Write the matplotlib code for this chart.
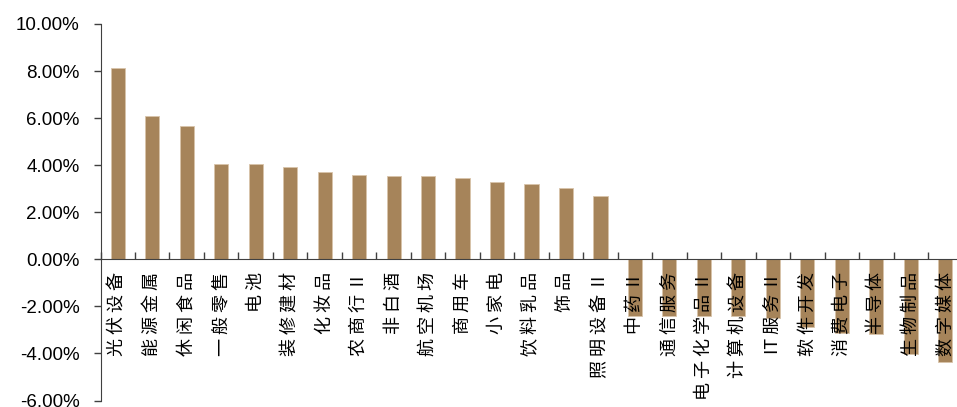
import numpy as np
import matplotlib
matplotlib.use("Agg")
import matplotlib.pyplot as plt
import matplotlib.transforms as mtransforms
from matplotlib.ticker import FuncFormatter

industries = ["光伏设备", "能源金属", "休闲食品", "一般零售", "电池", "装修建材",
              "化妆品", "农商行Ⅱ", "非白酒", "航空机场", "商用车", "小家电",
              "饮料乳品", "饰品", "照明设备Ⅱ", "中药Ⅱ", "通信服务", "电子化学品Ⅱ",
              "计算机设备", "IT服务Ⅱ", "软件开发", "消费电子", "半导体", "生物制品",
              "数字媒体"]
returns = [8.11, 6.10, 5.68, 4.07, 4.05, 3.91,
           3.69, 3.57, 3.53, 3.53, 3.44, 3.28,
           3.22, 3.01, 2.68, -2.39, -2.39, -2.43,
           -2.43, -2.50, -2.86, -3.14, -3.17, -4.01,
           -4.37]

bar_color = "#A6845A"

fig = plt.figure(figsize=(9.57, 4.07), dpi=100)
ax = fig.add_axes([100.5 / 957, (407 - 400.5) / 407, 862 / 957, (400.5 - 24) / 407])

x = np.arange(len(industries))
ax.bar(x, returns, width=0.41, color=bar_color, edgecolor="#D9C4AA", linewidth=0.6, zorder=2)

ax.set_xlim(-0.5, len(industries) - 0.5)
ax.set_ylim(-6, 10)
ax.set_yticks(np.arange(-6, 10.1, 2))
ax.yaxis.set_major_formatter(FuncFormatter(lambda v, p: f"{v:.2f}%"))
for lab in ax.get_yticklabels():
    lab.set_fontfamily("Liberation Sans")
    lab.set_fontsize(13.5)
ax.tick_params(axis="y", direction="out", length=5, width=1, color="#404040", pad=10)

# x axis sits on the zero line, ticks between categories pointing up
ax.spines["bottom"].set_position(("data", 0))
ax.spines["top"].set_visible(False)
ax.spines["right"].set_visible(False)
ax.spines["left"].set_color("#404040")
ax.spines["bottom"].set_color("#404040")
ax.set_xticks(np.arange(-0.5, len(industries), 1))
ax.set_xticklabels([])
ax.tick_params(axis="x", direction="in", length=5, width=1, color="#404040")

trans = mtransforms.blended_transform_factory(ax.transData, ax.transData)
offset = mtransforms.ScaledTranslation(0, -13 / 100, fig.dpi_scale_trans)
for xi, name in zip(x, industries):
    # the source spaces its characters out a little
    spaced = " ".join(name).replace("I T", "IT")
    ax.text(xi, 0, spaced, rotation=90, ha="center", va="top",
            fontsize=13, family=["Noto Sans CJK SC", "DejaVu Sans"],
            transform=trans + offset, zorder=3)

fig.savefig("out.png", dpi=100)
